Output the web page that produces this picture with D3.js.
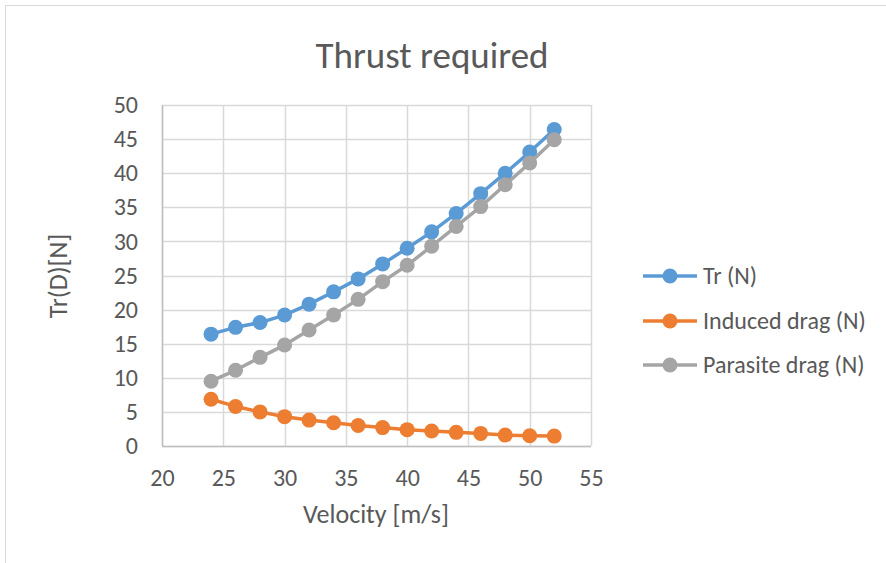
<!DOCTYPE html>
<html><head><meta charset="utf-8">
<script src="https://cdn.jsdelivr.net/npm/d3@7"></script>
<style>body{margin:0;background:#fff;} svg{display:block;font-family:Calibri,Carlito,"Open Sans",sans-serif;}</style>
</head><body>
<svg id="c" width="886" height="563"></svg>
<script>
const velocity = [24,26,28,30,32,34,36,38,40,42,44,46,48,50,52];
const trN = [16.4,17.4,18.1,19.2,20.8,22.6,24.5,26.7,29.0,31.4,34.1,37.0,40.0,43.1,46.4];
const inducedN = [6.85,5.8,5.0,4.3,3.8,3.4,3.0,2.7,2.4,2.2,2.0,1.85,1.6,1.5,1.45];
const parasiteN = [9.5,11.1,13.0,14.8,17.0,19.2,21.5,24.1,26.5,29.3,32.2,35.1,38.3,41.5,44.9];
const xTicks = [20,25,30,35,40,45,50,55];
const yTicks = [0,5,10,15,20,25,30,35,40,45,50];
const seriesNames = ["Tr (N)","Induced drag (N)","Parasite drag (N)"];
const seriesColors = ["#5B9BD5","#ED7D31","#A5A5A5"];
const FONT = 'Calibri,Carlito,"Open Sans",sans-serif';

const svg = d3.select("#c");
// chart frame
svg.append("path").attr("d","M5.5,563 L5.5,5.5 L886,5.5").attr("fill","none").attr("stroke","#d9d9d9").attr("stroke-width",1);

const x = d3.scaleLinear().domain([20,55]).range([162,591]);
const y = d3.scaleLinear().domain([0,50]).range([446,105]);

// grid
const g = svg.append("g");
g.selectAll(".hg").data(yTicks).join("line")
 .attr("x1",x(20)).attr("x2",x(55)).attr("y1",d=>Math.round(y(d))+0.5).attr("y2",d=>Math.round(y(d))+0.5)
 .attr("stroke","#d9d9d9").attr("stroke-width",1.5);
g.selectAll(".vg").data(xTicks).join("line")
 .attr("y1",y(0)).attr("y2",y(50)).attr("x1",d=>Math.round(x(d))+0.5).attr("x2",d=>Math.round(x(d))+0.5)
 .attr("stroke","#d9d9d9").attr("stroke-width",1.5);
// axis lines
svg.append("line").attr("x1",x(20)).attr("x2",x(55)).attr("y1",Math.round(y(0))+0.5).attr("y2",Math.round(y(0))+0.5).attr("stroke","#bfbfbf").attr("stroke-width",1.5);
svg.append("line").attr("x1",Math.round(x(20))+0.5).attr("x2",Math.round(x(20))+0.5).attr("y1",y(0)).attr("y2",y(50)).attr("stroke","#bfbfbf").attr("stroke-width",1.5);

// axes via d3
const xAxis = svg.append("g").attr("transform",`translate(0,${y(0)})`)
 .call(d3.axisBottom(x).tickValues(xTicks).tickSize(0).tickPadding(24));
xAxis.select(".domain").remove();
xAxis.selectAll("text").attr("y",40).attr("dy",0).attr("font-size",24).attr("fill","#595959").style("font-family",FONT);
const yAxis = svg.append("g").attr("transform",`translate(${x(20)},0)`)
 .call(d3.axisLeft(y).tickValues(yTicks).tickSize(0).tickPadding(24));
yAxis.select(".domain").remove();
yAxis.selectAll("text").attr("font-size",24).attr("fill","#595959").style("font-family",FONT);

// titles
svg.append("text").attr("x",432).attr("y",68).attr("text-anchor","middle").attr("font-size",37).attr("fill","#595959").text("Thrust required");
svg.append("text").attr("x",376).attr("y",523).attr("text-anchor","middle").attr("font-size",26).attr("fill","#595959").text("Velocity [m/s]");
svg.append("text").attr("transform","translate(67,276) rotate(-90)").attr("text-anchor","middle").attr("font-size",26).attr("fill","#595959").text("Tr(D)[N]");

const allSeries = [trN, inducedN, parasiteN];
const line = d3.line().x((d,i)=>x(velocity[i])).y(d=>y(d));
allSeries.forEach((vals,k)=>{
  svg.append("path").attr("d",line(vals)).attr("fill","none").attr("stroke",seriesColors[k]).attr("stroke-width",3.5).attr("stroke-linejoin","round");
  svg.append("g").selectAll("circle").data(vals).join("circle")
   .attr("cx",(d,i)=>x(velocity[i])).attr("cy",d=>y(d)).attr("r",7.5).attr("fill",seriesColors[k]);
});

// legend
const legY = [276,321,365];
seriesNames.forEach((n,k)=>{
  const lg = svg.append("g").attr("transform",`translate(0,${legY[k]})`);
  lg.append("line").attr("x1",643).attr("x2",697).attr("y1",0).attr("y2",0).attr("stroke",seriesColors[k]).attr("stroke-width",3.5);
  lg.append("circle").attr("cx",670).attr("cy",0).attr("r",7.5).attr("fill",seriesColors[k]);
  lg.append("text").attr("x",703).attr("y",8).attr("font-size",24).attr("fill","#595959").text(n);
});
</script>
</body></html>
